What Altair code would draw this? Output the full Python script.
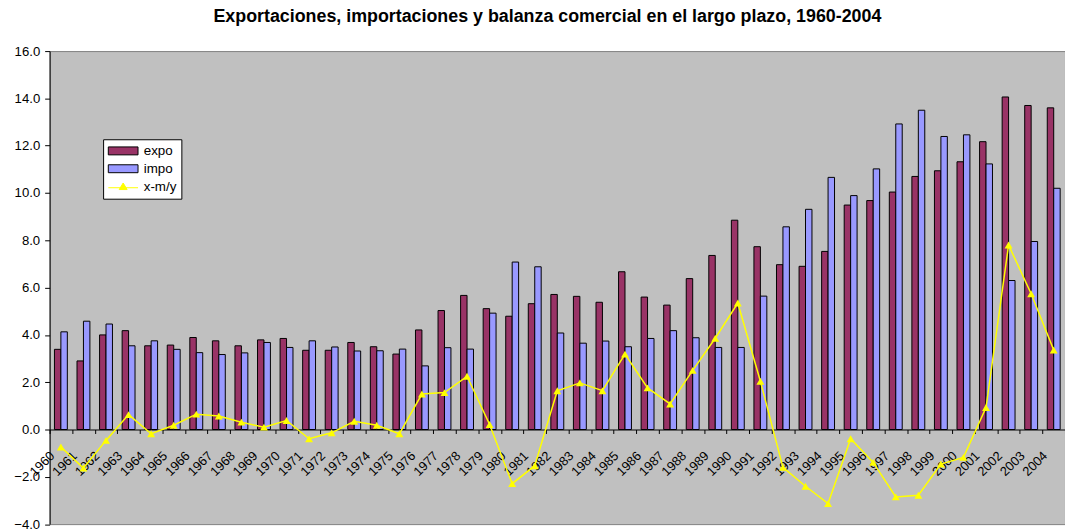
import altair as alt
import pandas as pd

years = [str(y) for y in range(1960, 2005)]

expo = [3.39, 2.90, 4.00, 4.18, 3.54, 3.57, 3.89, 3.75, 3.54, 3.79,
        3.85, 3.35, 3.35, 3.68, 3.50, 3.19, 4.21, 5.03, 5.67, 5.11,
        4.79, 5.32, 5.71, 5.63, 5.38, 6.67, 5.60, 5.26, 6.38, 7.36,
        8.85, 7.73, 6.97, 6.90, 7.53, 9.49, 9.68, 10.04, 10.70, 10.94,
        11.32, 12.17, 14.06, 13.70, 13.60]

impo = [4.13, 4.58, 4.46, 3.54, 3.75, 3.39, 3.25, 3.17, 3.24, 3.68,
        3.47, 3.75, 3.49, 3.32, 3.33, 3.40, 2.69, 3.46, 3.40, 4.92,
        7.08, 6.88, 4.08, 3.65, 3.74, 3.50, 3.85, 4.18, 3.88, 3.47,
        3.47, 5.64, 8.57, 9.31, 10.66, 9.89, 11.02, 12.92, 13.50, 12.39,
        12.46, 11.23, 6.30, 7.95, 10.20]

balanza = [-0.74, -1.63, -0.46, 0.63, -0.18, 0.18, 0.65, 0.57, 0.31, 0.10,
           0.38, -0.39, -0.14, 0.35, 0.18, -0.18, 1.50, 1.56, 2.25, 0.21,
           -2.29, -1.53, 1.64, 1.97, 1.64, 3.19, 1.76, 1.08, 2.50, 3.86,
           5.35, 2.04, -1.60, -2.40, -3.13, -0.39, -1.39, -2.85, -2.78, -1.46,
           -1.18, 0.93, 7.80, 5.74, 3.36]

series = ["expo", "impo", "x-m/y"]
colors = ["#993366", "#9999FF", "#FFFF00"]
strokes = ["#000000", "#000000", "#FFFF00"]
y_ticks = [-4, -2, 0, 2, 4, 6, 8, 10, 12, 14, 16]

bars_df = pd.DataFrame({
    "year": years * 2,
    "serie": ["expo"] * len(years) + ["impo"] * len(years),
    "valor": expo + impo,
})
line_df = pd.DataFrame({"year": years, "serie": "x-m/y", "valor": balanza})

FONT = "Liberation Sans"
W = 1025
H = 477.5
y_zero_from_bottom = H * 4 / 20

rect_path = "M-3.75,-1H3.75V1H-3.75Z"
linetri_path = "M-3.75,0.3H3.75M0,-0.9L1,0.75L-1,0.75Z"

color_scale = alt.Scale(domain=series, range=colors)
stroke_scale = alt.Scale(domain=series, range=strokes)
shape_scale = alt.Scale(domain=series, range=[rect_path, rect_path, linetri_path])

legend = alt.Legend(
    title=None, orient="none", legendX=54, legendY=89,
    fillColor="white", strokeColor="black", padding=5,
    symbolSize=64, symbolOffset=8.5, labelOffset=14, rowPadding=3,
    symbolFillColor="white", symbolOpacity=1, symbolStrokeWidth=1,
    labelFont=FONT, labelFontSize=13.5, labelColor="black",
)

x_enc = alt.X(
    "year:N", sort=years, title=None,
    scale=alt.Scale(paddingInner=0, paddingOuter=0),
    axis=alt.Axis(
        offset=-y_zero_from_bottom, tickBand="extent", tickSize=4,
        domainColor="black", tickColor="black", labelColor="black",
        labelFont=FONT, labelFontSize=13, labelAngle=315,
        labelAlign="right", labelBaseline="middle",
        labelPadding=20, labelOffset=-9, labelOverlap=False, grid=False,
    ),
)
y_enc = alt.Y(
    "valor:Q", title=None,
    scale=alt.Scale(domain=[-4, 16], nice=False, zero=False),
    axis=alt.Axis(
        values=y_ticks, format=".1f", grid=False, tickSize=5,
        domainColor="black", tickColor="black", labelColor="black",
        labelFont=FONT, labelFontSize=13.3, labelPadding=5,
    ),
)

bars = alt.Chart(bars_df).mark_bar(strokeWidth=1).encode(
    x=x_enc,
    xOffset=alt.XOffset("serie:N", scale=alt.Scale(domain=["expo", "impo"], paddingInner=0, paddingOuter=0.75)),
    y=y_enc,
    color=alt.Color("serie:N", scale=color_scale, legend=legend),
    stroke=alt.Stroke("serie:N", scale=stroke_scale, legend=legend),
)

line = alt.Chart(line_df).mark_line(color="#FFFF00", strokeWidth=1.5).encode(x=x_enc, y=y_enc)

points = alt.Chart(line_df).mark_point(
    filled=True, shape="triangle-up", size=64, color="#FFFF00", opacity=1
).encode(x=x_enc, y=y_enc)

legend_layer = alt.Chart(line_df).mark_point(filled=True, size=0, opacity=1).encode(
    x=x_enc, y=y_enc,
    color=alt.Color("serie:N", scale=color_scale, legend=legend),
    stroke=alt.Stroke("serie:N", scale=stroke_scale, legend=legend),
    shape=alt.Shape("serie:N", scale=shape_scale, legend=legend),
)

chart = alt.layer(bars, line, points, legend_layer).properties(
    width=W, height=H,
    padding={"left": 42, "top": 41, "right": 0, "bottom": 10},
    autosize=alt.AutoSizeParams(type="none"),
    title=alt.TitleParams(
        "Exportaciones, importaciones y balanza comercial en el largo plazo, 1960-2004",
        font=FONT, fontSize=18, fontWeight="bold", color="black",
        anchor="middle", offset=4, baseline="alphabetic", dx=-10,
    ),
).configure(background="white").configure_view(
    fill="#C0C0C0", stroke="#808080", strokeWidth=1
)

chart.save("out.html", embed_options={"renderer": "svg", "actions": False})
